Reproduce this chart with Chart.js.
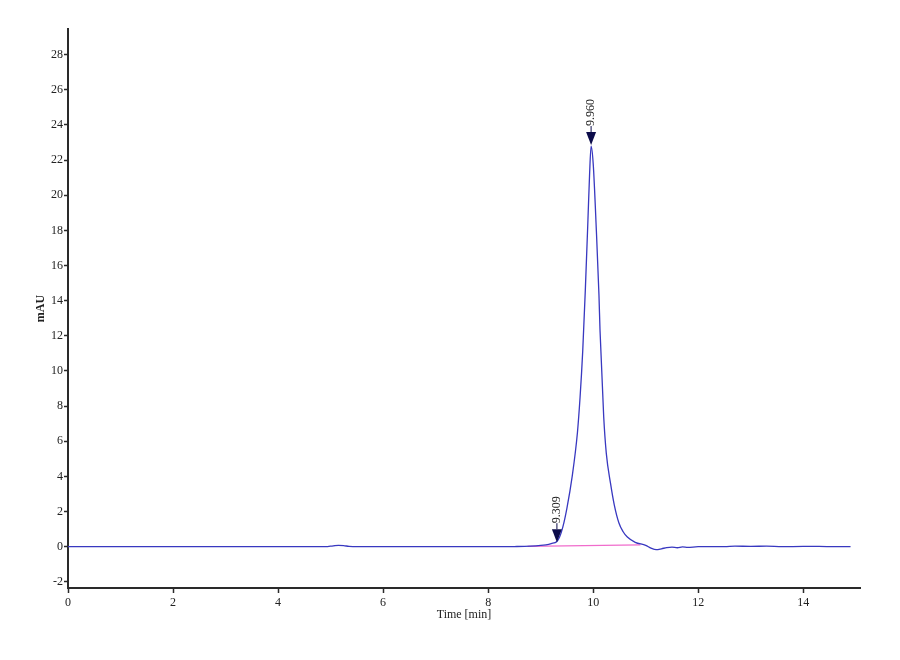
<!DOCTYPE html>
<html>
<head>
<meta charset="utf-8">
<script src="https://cdn.jsdelivr.net/npm/chart.js@4.4.1/dist/chart.umd.min.js"></script>
<style>
  html, body { margin: 0; padding: 0; background: #ffffff; }
  #wrap { width: 900px; height: 660px; position: relative; }
</style>
</head>
<body>
<div id="wrap"><canvas id="chrom"></canvas></div>
<script>
// Trace (time in min, signal in mAU)
const traceTimes = [0, 1, 2, 3, 4, 4.9, 5.05, 5.15, 5.25, 5.35, 5.5, 6, 7, 8, 8.5, 8.8, 9.0, 9.1, 9.2, 9.309,
  9.36, 9.42, 9.5, 9.6, 9.7, 9.75, 9.8, 9.85, 9.9, 9.93, 9.96, 10.0, 10.06, 10.11, 10.13, 10.2, 10.25, 10.33,
  10.4, 10.49, 10.57, 10.65, 10.8, 11.0, 11.1, 11.2, 11.3, 11.4, 11.5, 11.6, 11.7, 11.8, 12, 12.5, 12.7,
  13, 13.3, 13.6, 14, 14.3, 14.6, 14.9];
const traceValues = [0, 0, 0, 0, 0, 0, 0.05, 0.08, 0.06, 0.02, 0, 0, 0, 0, 0.01, 0.03, 0.07, 0.11, 0.18, 0.3,
  0.55, 1.1, 2.2, 4.0, 6.5, 8.5, 11.1, 14.6, 18.6, 21.1, 22.8, 21.8, 18.0, 14.3, 12.3, 7.4, 5.3, 3.6,
  2.4, 1.35, 0.85, 0.55, 0.25, 0.08, -0.08, -0.17, -0.12, -0.05, -0.02, -0.06, -0.01, -0.04, 0, 0, 0.03,
  0.02, 0.03, 0, 0.02, 0.02, 0, 0];

// Integration baseline (pink)
const baseTimes = [8.75, 10.9];
const baseValues = [0.02, 0.1];

// Peak markers
const peakTimes = [9.309, 9.960];
const peakValues = [0.2, 22.8];
const peakLabels = ['9.309', '9.960'];

// Tick labels
const xTicks = [0, 2, 4, 6, 8, 10, 12, 14];
const yTicks = [-2, 0, 2, 4, 6, 8, 10, 12, 14, 16, 18, 20, 22, 24, 26, 28];

const serif = '"Liberation Serif", "DejaVu Serif", serif';

// draws the down-arrows and rotated retention-time labels
const peakMarks = {
    id: 'peakMarks',
    afterDatasetsDraw(chart) {
        const c = chart.ctx;
        const xs = chart.scales.x, ys = chart.scales.y;
        for (let i = 0; i < peakTimes.length; i++) {
            const px = xs.getPixelForValue(peakTimes[i]);
            const py = ys.getPixelForValue(peakValues[i]) - 1;
            c.save();
            c.fillStyle = '#0c0c4a';
            c.beginPath();
            c.moveTo(px, py);
            c.lineTo(px - 5, py - 13);
            c.lineTo(px + 5, py - 13);
            c.closePath();
            c.fill();
            c.strokeStyle = '#0c0c4a';
            c.lineWidth = 1;
            c.beginPath();
            c.moveTo(px, py - 13);
            c.lineTo(px, py - 19);
            c.stroke();
            c.translate(px, py - 19);
            c.rotate(-Math.PI / 2);
            c.fillStyle = '#222';
            c.font = '12px ' + serif;
            c.textAlign = 'left';
            c.textBaseline = 'middle';
            c.fillText(peakLabels[i], 0, 0);
            c.restore();
        }
    }
};

const ctx = document.getElementById('chrom');

new Chart(ctx, {
    type: 'scatter',
    data: {
        datasets: [{
            label: 'Signal',
            data: traceTimes.map((t, i) => ({ x: t, y: traceValues[i] })),
            showLine: true,
            borderColor: '#3838c0',
            borderWidth: 1.3,
            pointRadius: 0,
            cubicInterpolationMode: 'monotone',
            order: 1
        }, {
            label: 'Baseline',
            data: baseTimes.map((t, i) => ({ x: t, y: baseValues[i] })),
            showLine: true,
            borderColor: '#f06ccc',
            borderWidth: 1.2,
            pointRadius: 0,
            order: 2
        }]
    },
    options: {
        responsive: true,
        maintainAspectRatio: false,
        animation: false,
        layout: { padding: { top: 29, right: 40, left: 34, bottom: 38 } },
        plugins: {
            legend: { display: false },
            tooltip: { enabled: false }
        },
        scales: {
            x: {
                type: 'linear',
                min: 0,
                max: 15.08,
                afterBuildTicks: axis => { axis.ticks = xTicks.map(v => ({ value: v })); },
                afterFit: axis => { axis.height = 34; },
                border: { display: true, color: '#2a2a2a', width: 2 },
                grid: { drawOnChartArea: false, drawTicks: true, tickLength: 5, color: '#2a2a2a', tickWidth: 1.5 },
                ticks: { color: '#222', font: { family: serif, size: 12 }, padding: 3, maxRotation: 0 },
                title: { display: true, text: 'Time [min]', color: '#222', font: { family: serif, size: 12 }, padding: { top: 0, bottom: 0 } }
            },
            y: {
                min: -2.35,
                max: 29.46,
                afterBuildTicks: axis => { axis.ticks = yTicks.map(v => ({ value: v })); },
                afterFit: axis => { axis.width = 34; },
                border: { display: true, color: '#2a2a2a', width: 2 },
                grid: { drawOnChartArea: false, drawTicks: true, tickLength: 4, color: '#2a2a2a', tickWidth: 1.5 },
                ticks: { color: '#222', font: { family: serif, size: 12 }, padding: 1 },
                title: { display: true, text: 'mAU', color: '#222', font: { family: serif, size: 12, weight: 'bold' }, padding: { top: 0, bottom: 0 } }
            }
        }
    },
    plugins: [peakMarks]
});
</script>
</body>
</html>
